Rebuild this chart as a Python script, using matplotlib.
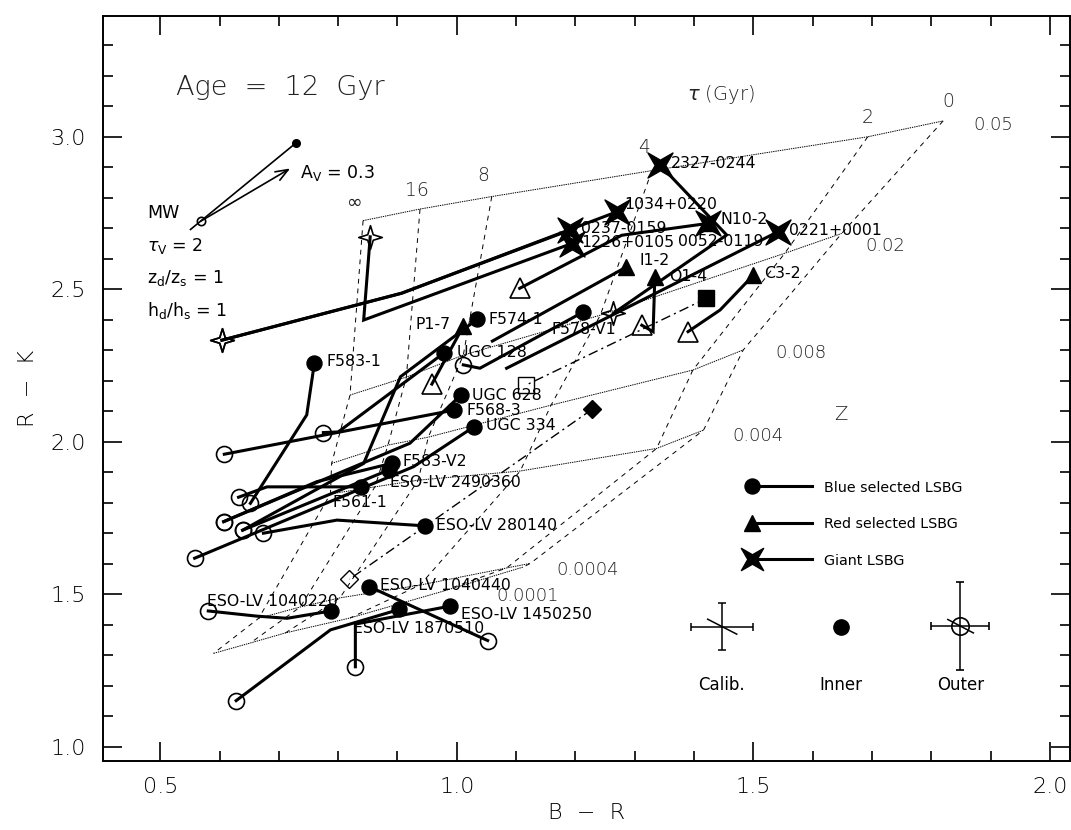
import numpy as np
import matplotlib
matplotlib.use("Agg")
import matplotlib.pyplot as plt
from matplotlib.path import Path
from matplotlib.ticker import MultipleLocator, FormatStrFormatter

plt.rcParams['font.family'] = ['DejaVu Sans']
plt.rcParams['mathtext.fontset'] = 'dejavusans'

# ---------------------------------------------------------------
# Model grid, age 12 Gyr: one track per metallicity Z, points
# ordered by e-folding time tau = inf, 16, 8, 4, 2, 0 Gyr
# ---------------------------------------------------------------
tau_labels = [r'$\infty$', '16', '8', '4', '2', '0']
z_labels = ['0.05', '0.02', '0.008', '0.004', '0.0004', '0.0001']

br_z05 = [0.842, 0.938, 1.059, 1.329, 1.693, 1.820]
rk_z05 = [2.725, 2.763, 2.804, 2.889, 3.000, 3.052]
br_z02 = [0.820, 0.915, 1.011, 1.242, 1.553, 1.649]
rk_z02 = [2.153, 2.212, 2.284, 2.415, 2.618, 2.683]
br_z008 = [0.789, 0.884, 0.952, 1.159, 1.398, 1.483]
rk_z008 = [1.929, 1.989, 2.015, 2.120, 2.235, 2.301]
br_z004 = [0.787, 0.862, 0.935, 1.107, 1.337, 1.416]
rk_z004 = [1.829, 1.852, 1.874, 1.904, 1.978, 2.038]
br_z0004 = [0.666, 0.736, 0.803, 0.938, 1.084, 1.124]
rk_z0004 = [1.421, 1.458, 1.488, 1.530, 1.586, 1.601]
br_z0001 = [0.590, 0.652, 0.711, 0.820, 0.972, 1.112]
rk_z0001 = [1.306, 1.340, 1.373, 1.422, 1.507, 1.589]

# reference models (dash-dot): filled = inner, open = outer
sq_br = [1.421, 1.116]
sq_rk = [2.470, 2.185]
dm_br = [1.228, 0.819]
dm_rk = [2.106, 1.549]

# ---------------------------------------------------------------
# Galaxy colour profiles: first point = inner, last = outer
# ---------------------------------------------------------------
blue_names = ['F583-1', 'F574-1', 'UGC 128', 'F578-V1', 'UGC 628', 'F568-3',
              'UGC 334', 'F583-V2', 'ESO-LV 2490360', 'F561-1',
              'ESO-LV 280140', 'ESO-LV 1040440', 'ESO-LV 1040220',
              'ESO-LV 1870510', 'ESO-LV 1450250']
blue_br = [[0.760, 0.747, 0.652],
           [1.034, 0.905, 0.843, 0.639],
           [0.979, 0.800, 0.775],
           [1.212, 1.039, 1.011],
           [1.007, 0.921, 0.607],
           [0.996, 0.608],
           [1.029, 0.927, 0.558],
           [0.890, 0.764, 0.607],
           [0.885, 0.639],
           [0.839, 0.680, 0.632],
           [0.947, 0.798, 0.674],
           [0.852, 1.052],
           [0.788, 0.714, 0.663, 0.581],
           [0.903, 0.787, 0.628],
           [0.989, 0.829, 0.829]]
blue_rk = [[2.259, 2.088, 1.798],
           [2.401, 2.213, 1.929, 1.710],
           [2.292, 2.032, 2.030],
           [2.424, 2.241, 2.252],
           [2.153, 1.995, 1.738],
           [2.104, 1.959],
           [2.049, 1.918, 1.618],
           [1.929, 1.869, 1.738],
           [1.907, 1.710],
           [1.852, 1.852, 1.818],
           [1.724, 1.743, 1.700],
           [1.525, 1.348],
           [1.445, 1.421, 1.428, 1.445],
           [1.450, 1.383, 1.151],
           [1.461, 1.402, 1.262]]
blue_outer_measured = [True] * 15
blue_label_offset = [(9, 1), (8, 0), (9, 0), (-22, -12), (8, 0), (9, 0),
                     (9, 1), (8, 1), (1, -9), (-21, -11), (8, 0), (8, 1),
                     (-89, 7), (-33, -14), (8, -6)]

red_names = ['P1-7', 'I1-2', 'O1-4', 'C3-2', 'N10-2']
red_br = [[1.011, 0.958],
          [1.285, 1.060],
          [1.334, 1.331, 1.312],
          [1.500, 1.444, 1.390],
          [1.424, 1.278, 1.106]]
red_rk = [[2.379, 2.189],
          [2.572, 2.330],
          [2.541, 2.361, 2.382],
          [2.546, 2.432, 2.361],
          [2.716, 2.677, 2.503]]
red_outer_measured = [True, False, True, True, True]
red_label_offset = [(-9, 1), (10, 5), (10, 0), (8, 1), (9, 3)]

giant_names = ['2327-0244', '1034+0220', '0237-0159', '1226+0105',
               '0052-0119', '0221+0001']
giant_br = [[1.343, 1.455, 1.264],
            [1.270, 0.907, 0.604],
            [1.191, 0.907, 0.604],
            [1.194, 0.843, 0.854],
            [1.424],
            [1.542, 1.084]]
giant_rk = [[2.907, 2.678, 2.421],
            [2.754, 2.487, 2.333],
            [2.694, 2.487, 2.333],
            [2.650, 2.399, 2.672],
            [2.716],
            [2.689, 2.241]]
giant_outer_measured = [True, True, True, True, False, False]
giant_label_offset = [(8, 1), (5, 5), (8, 1), (7, 1), (-22, -13), (8, 1)]

# typical uncertainties
calib_pos = (1.447, 1.394)
calib_err = (0.052, 0.076)
inner_pos = (1.648, 1.394)
outer_pos = (1.849, 1.397)
outer_err = (0.049, 0.144)

# dust: Milky-Way type disk and a screen of A_V = 0.3
mw_br = [0.551, 0.729]
mw_rk = [2.696, 2.980]
av_start = (0.569, 2.724)
av_end = (0.719, 2.896)


def four_point_star(angle, inner=0.28):
    k = np.arange(8)
    ang = np.deg2rad(angle + 45.0 * k)
    r = np.where(k % 2 == 0, 1.0, inner)
    v = np.column_stack([r * np.cos(ang), r * np.sin(ang)])
    v = np.vstack([v, v[:1]])
    codes = [Path.MOVETO] + [Path.LINETO] * 7 + [Path.CLOSEPOLY]
    return Path(v, codes)


star_x = four_point_star(45, 0.30)
star_plus = four_point_star(0, 0.33)

fig = plt.figure(figsize=(10.71, 8.30), dpi=100)
ax = fig.add_axes([0.0959, 0.0835, 0.9032, 0.8972])
ax.set_xlim(0.403, 2.034)
ax.set_ylim(0.954, 3.396)

# ---- model grid ----
grid_br = np.array([br_z05, br_z02, br_z008, br_z004, br_z0004, br_z0001])
grid_rk = np.array([rk_z05, rk_z02, rk_z008, rk_z004, rk_z0004, rk_z0001])
for br, rk in zip(grid_br, grid_rk):
    ax.plot(br, rk, color='k', lw=0.7, ls=(0, (1.4, 0.9)), zorder=1)
for j in range(len(tau_labels)):
    ax.plot(grid_br[:, j], grid_rk[:, j], color='k', lw=0.7,
            ls=(0, (5, 5)), zorder=1)

thin = dict(fontweight='light', color='#222222')
tau_off = [(-7, 14), (-2, 13.5), (-6, 15.5), (-5.5, 16.5), (0, 14), (4, 14)]
for j, lab in enumerate(tau_labels):
    ax.annotate(lab, (grid_br[0, j], grid_rk[0, j]), xytext=tau_off[j],
                textcoords='offset points', ha='center', va='center',
                fontsize=13.5, **thin)
z_off = [(22, -3), (17, -9), (23, -2.5), (20.5, -4), (19, -5), (-19, -21)]
for i, lab in enumerate(z_labels):
    ax.annotate(lab, (grid_br[i, -1], grid_rk[i, -1]), xytext=z_off[i],
                textcoords='offset points', ha='left', va='center',
                fontsize=13, **thin)
ax.text(1.647, 2.088, 'Z', ha='center', va='center', fontsize=14, **thin)
ax.text(1.388, 3.140, r'$\tau$ (Gyr)', ha='left', va='center', fontsize=14,
        **thin)
ax.text(0.527, 3.161, 'Age  =  12  Gyr', ha='left', va='center',
        fontsize=19.5, **thin)

# ---- reference models ----
dashdot = (0, (7, 3, 1.5, 3))
ax.plot(sq_br, sq_rk, color='k', lw=1.0, ls=dashdot, zorder=2)
ax.plot(sq_br[0], sq_rk[0], 's', color='k', ms=12, zorder=4)
ax.plot(sq_br[1], sq_rk[1], 's', mfc='none', mec='k', mew=1.0, ms=11, zorder=4)
ax.plot(dm_br, dm_rk, color='k', lw=1.0, ls=dashdot, zorder=2)
ax.plot(dm_br[0], dm_rk[0], 'D', color='k', ms=9, zorder=4)
ax.plot(dm_br[1], dm_rk[1], 'D', mfc='none', mec='k', mew=1.0, ms=9, zorder=4)

# ---- galaxies ----
samples = [
    (blue_names, blue_br, blue_rk, blue_outer_measured, blue_label_offset,
     'o', 10.8, 'o', 11.5),
    (red_names, red_br, red_rk, red_outer_measured, red_label_offset,
     '^', 12, '^', 14.5),
    (giant_names, giant_br, giant_rk, giant_outer_measured, giant_label_offset,
     star_x, 18, star_plus, 17),
]
for names, brs, rks, outer_ok, offs, m_in, s_in, m_out, s_out in samples:
    for name, br, rk, ok, off in zip(names, brs, rks, outer_ok, offs):
        if len(br) > 1:
            ax.plot(br, rk, color='k', lw=2.2, solid_joinstyle='miter',
                    zorder=3)
        if ok:
            ax.plot(br[-1], rk[-1], marker=m_out, ls='none', mfc='none',
                    mec='k', mew=1.2, ms=s_out, zorder=4)
        ax.plot(br[0], rk[0], marker=m_in, ls='none', color='k', ms=s_in,
                zorder=5)
        ax.annotate(name, (br[0], rk[0]), xytext=off,
                    textcoords='offset points',
                    ha='right' if name == 'P1-7' else 'left',
                    va='center', fontsize=11.3, zorder=6)

# ---- legend ----
leg_x = [1.497, 1.599]
leg_y = [1.854, 1.734, 1.614]
leg_text = ['Blue selected LSBG', 'Red selected LSBG', 'Giant LSBG']
leg_marker = [('o', 10.8), ('^', 12), (star_x, 16)]
for y, t, (m, s) in zip(leg_y, leg_text, leg_marker):
    ax.plot(leg_x, [y, y], color='k', lw=2.2, zorder=3)
    ax.plot(leg_x[0], y, marker=m, color='k', ms=s, ls='none', zorder=5)
    ax.text(1.619, y - 0.005, t, ha='left', va='center', fontsize=10.3)

# ---- typical error bars ----
ax.errorbar(*calib_pos, xerr=calib_err[0], yerr=calib_err[1], fmt='none',
            ecolor='k', elinewidth=1.1, capsize=3, capthick=1.1)
ax.plot([calib_pos[0] - 0.024, calib_pos[0] + 0.025],
        [calib_pos[1] + 0.024, calib_pos[1] - 0.025], color='k', lw=1.1)
ax.plot(*inner_pos, 'o', color='k', ms=11)
ax.errorbar(*outer_pos, xerr=outer_err[0], yerr=outer_err[1], fmt='o',
            mfc='none', mec='k', mew=1.2, ms=12.5, ecolor='k',
            elinewidth=1.1, capsize=3, capthick=1.1)
ax.plot([outer_pos[0] - 0.021, outer_pos[0] + 0.022],
        [outer_pos[1] + 0.020, outer_pos[1] - 0.024], color='k', lw=1.1)
for (x, _), t in zip([calib_pos, inner_pos, outer_pos],
                     ['Calib.', 'Inner', 'Outer']):
    ax.text(x, 1.203, t, ha='center', va='center', fontsize=12)

# ---- dust vectors ----
ax.plot(mw_br, mw_rk, color='k', lw=1.2)
ax.plot(mw_br[1], mw_rk[1], 'o', color='k', ms=5.5)
ax.plot(*av_start, 'o', mfc='none', mec='k', mew=1.2, ms=6)
ax.annotate('', xy=av_end, xytext=av_start,
            arrowprops=dict(arrowstyle='->,head_length=0.9,head_width=0.35',
                            lw=1.2, color='k', shrinkA=0, shrinkB=0))
ax.text(0.736, 2.880, r'A$_{\rm V}$ = 0.3', ha='left', va='center',
        fontsize=12.5)
ax.text(0.478, 2.749, 'MW', ha='left', va='center', fontsize=12.5)
ax.text(0.478, 2.642, r'$\tau_{\rm V}$ = 2', ha='left', va='center',
        fontsize=12.5)
ax.text(0.478, 2.538, r'z$_{\rm d}$/z$_{\rm s}$ = 1', ha='left', va='center',
        fontsize=12.5)
ax.text(0.478, 2.429, r'h$_{\rm d}$/h$_{\rm s}$ = 1', ha='left', va='center',
        fontsize=12.5)

# ---- axes ----
for sp in ax.spines.values():
    sp.set_linewidth(1.4)
ax.xaxis.set_major_locator(MultipleLocator(0.5))
ax.xaxis.set_minor_locator(MultipleLocator(0.1))
ax.yaxis.set_major_locator(MultipleLocator(0.5))
ax.yaxis.set_minor_locator(MultipleLocator(0.1))
ax.xaxis.set_major_formatter(FormatStrFormatter('%.1f'))
ax.yaxis.set_major_formatter(FormatStrFormatter('%.1f'))
ax.tick_params(which='both', direction='in', top=True, right=True,
               width=1.2, color='k')
ax.tick_params(which='major', length=14, labelsize=16, pad=12)
ax.tick_params(which='minor', length=7)
for lab in ax.get_xticklabels() + ax.get_yticklabels():
    lab.set_fontweight('light')
ax.set_xlabel('B  \u2212  R', fontsize=16, fontweight='light')
ax.set_ylabel('R  \u2212  K', fontsize=16, fontweight='light')
ax.xaxis.set_label_coords(0.5, -0.057)
ax.yaxis.set_label_coords(-0.067, 0.5)

fig.savefig('out.png', dpi=100)
